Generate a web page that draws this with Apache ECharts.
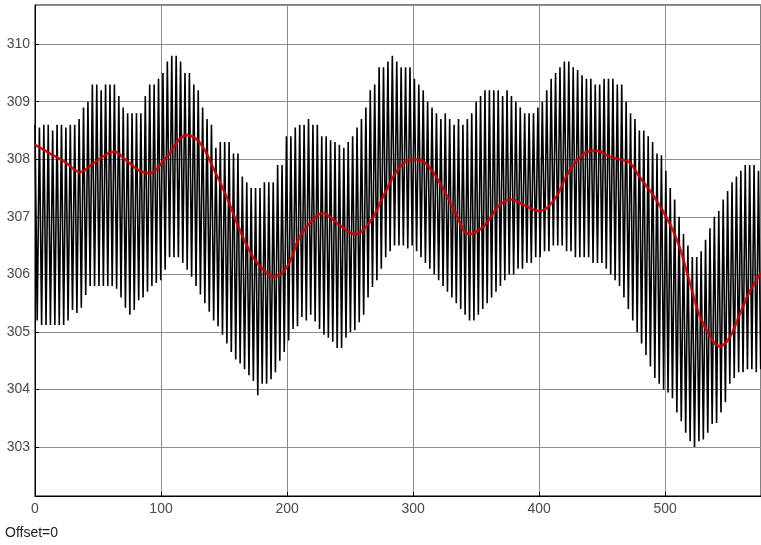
<!DOCTYPE html>
<html>
<head>
<meta charset="utf-8">
<script src="https://cdn.jsdelivr.net/npm/echarts@6/dist/echarts.min.js"></script>
<style>
  html, body { margin: 0; padding: 0; background: #fff; }
  #chart { width: 761px; height: 545px; }
</style>
</head>
<body>
<div id="chart"></div>
<script>
// Scope trace: raw sampled signal (black) and its filtered mean (red).
const sampleStep = 1.75;

// Successive maxima of the raw signal, one per oscillation
const peakValues = [
  308.6, 308.55, 308.6, 308.6, 308.5, 308.6, 308.6, 308.55, 308.6, 308.6,
  308.7, 308.9, 309.0, 309.3, 309.3, 309.2, 309.3, 309.3, 309.3, 309.1,
  308.9, 308.8, 308.8, 308.8, 308.8, 309.1, 309.3, 309.3, 309.4, 309.5,
  309.7, 309.8, 309.8, 309.7, 309.5, 309.5, 309.3, 309.2, 308.9, 308.7,
  308.6, 308.2, 308.3, 308.3, 308.3, 308.1, 308.1, 307.7, 307.6, 307.5,
  307.5, 307.5, 307.6, 307.6, 307.6, 307.9, 307.9, 308.4, 308.4, 308.55,
  308.6, 308.6, 308.7, 308.6, 308.6, 308.4, 308.4, 308.33, 308.3, 308.25,
  308.2, 308.3, 308.4, 308.55, 308.7, 308.9, 309.2, 309.3, 309.6, 309.6,
  309.7, 309.8, 309.7, 309.6, 309.6, 309.6, 309.4, 309.3, 309.2, 309.0,
  308.9, 308.8, 308.7, 308.8, 308.7, 308.6, 308.7, 308.6, 308.7, 308.8,
  309.0, 309.1, 309.2, 309.2, 309.2, 309.2, 309.1, 309.2, 309.1, 309.0,
  308.9, 308.8, 308.8, 308.8, 308.9, 309.0, 309.2, 309.4, 309.5, 309.6,
  309.7, 309.7, 309.6, 309.55, 309.46, 309.4, 309.4, 309.3, 309.3, 309.4,
  309.4, 309.4, 309.3, 309.3, 309.0, 308.8, 308.7, 308.5, 308.5, 308.4,
  308.3, 308.1, 308.07, 307.8, 307.5, 307.3, 307.0, 306.7, 306.5, 306.3,
  306.3, 306.4, 306.6, 306.8, 307.0, 307.1, 307.3, 307.45, 307.6, 307.7,
  307.8, 307.9, 307.9, 307.9, 307.8
];

// Successive minima of the raw signal, one per oscillation
const troughValues = [
  305.2, 305.12, 305.12, 305.12, 305.12, 305.12, 305.12, 305.2, 305.38, 305.33,
  305.42, 305.64, 305.8, 305.8, 305.8, 305.8, 305.8, 305.8, 305.75, 305.6,
  305.42, 305.3, 305.38, 305.55, 305.6, 305.7, 305.8, 305.85, 305.9, 306.08,
  306.3, 306.3, 306.3, 306.2, 306.08, 305.96, 305.8, 305.65, 305.5, 305.35,
  305.2, 305.1, 304.95, 304.8, 304.65, 304.52, 304.45, 304.35, 304.25, 304.15,
  303.9, 304.1, 304.1, 304.18, 304.3, 304.5, 304.65, 304.85, 305.05, 305.1,
  305.26, 305.2, 305.3, 305.18, 305.05, 304.95, 304.9, 304.83, 304.72, 304.72,
  304.9, 305.0, 305.03, 305.17, 305.3, 305.6, 305.78, 305.9, 306.1, 306.3,
  306.4, 306.5, 306.5, 306.5, 306.45, 306.5, 306.4, 306.3, 306.2, 306.1,
  306.0, 305.9, 305.8, 305.7, 305.6, 305.5, 305.4, 305.3, 305.2, 305.2,
  305.3, 305.4, 305.5, 305.6, 305.7, 305.8, 305.9, 306.0, 306.0, 306.1,
  306.1, 306.2, 306.2, 306.3, 306.3, 306.4, 306.4, 306.5, 306.5, 306.5,
  306.4, 306.4, 306.3, 306.3, 306.3, 306.3, 306.2, 306.2, 306.2, 306.1,
  306.0, 305.9, 305.8, 305.6, 305.4, 305.2, 305.0, 304.8, 304.6, 304.4,
  304.2, 304.1, 304.0, 303.95, 303.85, 303.6, 303.45, 303.25, 303.1, 303.0,
  303.1, 303.13, 303.25, 303.4, 303.42, 303.6, 303.78, 304.1, 304.2, 304.3,
  304.3, 304.35, 304.35, 304.3, 304.35
];

// Filtered mean of the signal
const meanTimes = [
  0, 12, 24, 35.7, 47.5, 63, 71.3, 83, 91, 103,
  121, 131, 141, 152, 162.5, 173, 184, 190, 200, 210,
  220, 228, 242, 253.5, 265.5, 277.3, 289, 299.5, 309, 321,
  333, 344.7, 356.6, 368.4, 378, 388.3, 400, 412, 424, 435.8,
  445, 455.6, 463.5, 471.5, 479.4, 491.3, 503.2, 511, 519, 527,
  535, 543, 551, 559, 567, 576
];
const meanValues = [
  308.25, 308.1, 307.95, 307.78, 307.95, 308.13, 308.0, 307.8, 307.76, 308.0,
  308.42, 308.28, 307.87, 307.35, 306.77, 306.3, 306.02, 305.96, 306.13, 306.65,
  306.94, 307.06, 306.85, 306.7, 306.9, 307.4, 307.85, 308.0, 307.95, 307.6,
  307.1, 306.7, 306.85, 307.2, 307.3, 307.2, 307.1, 307.3, 307.8, 308.1,
  308.15, 308.05, 308.0, 307.95, 307.7, 307.35, 306.9, 306.5, 305.9, 305.3,
  304.95, 304.75, 304.9, 305.3, 305.7, 306.02
];

const xTicks = [0, 100, 200, 300, 400, 500];
const yTicks = [303, 304, 305, 306, 307, 308, 309, 310];

const rawData = [];
for (let k = 0; k < peakValues.length; k++) {
  rawData.push([2 * k * sampleStep, peakValues[k]]);
  if (k < troughValues.length) rawData.push([(2 * k + 1) * sampleStep, troughValues[k]]);
}
const meanData = meanTimes.map((t, i) => [t, meanValues[i]]);

const labelFont = { fontFamily: 'Liberation Sans, Arial, sans-serif', fontSize: 14, color: '#4a4a4a' };

const chart = echarts.init(document.getElementById('chart'), null, { renderer: 'canvas' });
chart.setOption({
  animation: false,
  backgroundColor: '#fff',
  grid: {
    left: 35, top: 5, right: -1, bottom: 49,
    show: true, borderColor: '#000', borderWidth: 1, backgroundColor: 'transparent'
  },
  graphic: [{
    type: 'text', left: 5, top: 526,
    style: { text: 'Offset=0', fill: '#222', font: '14px "Liberation Sans", Arial, sans-serif' }
  }],
  xAxis: {
    type: 'value', min: 0, max: 576, interval: 100,
    axisLine: { show: true, lineStyle: { color: '#000', width: 1 } },
    axisTick: { show: true, inside: true, length: 4, lineStyle: { color: '#000' } },
    axisLabel: Object.assign({ margin: 6, showMaxLabel: false,
      formatter: v => xTicks.includes(v) ? String(v) : '' }, labelFont),
    splitLine: { show: true, lineStyle: { color: '#8c8c8c', width: 1 } }
  },
  yAxis: {
    type: 'value', min: 302.15, max: 310.68, splitNumber: 8, minInterval: 1, maxInterval: 1,
    axisLine: { show: true, lineStyle: { color: '#000', width: 1 } },
    axisTick: { show: true, inside: true, length: 4, lineStyle: { color: '#000' } },
    axisLabel: Object.assign({ margin: 5, showMinLabel: false, showMaxLabel: false,
      formatter: v => yTicks.includes(v) ? String(v) : '' }, labelFont),
    splitLine: { show: true, lineStyle: { color: '#8c8c8c', width: 1 } }
  },
  series: [
    {
      type: 'line', data: rawData, showSymbol: false, symbol: 'none',
      lineStyle: { color: '#000', width: 1.6 }, z: 2, silent: true
    },
    {
      type: 'line', data: meanData, showSymbol: false, symbol: 'none', smooth: 0.4,
      lineStyle: { color: '#d40000', width: 2.6, opacity: 0.9 }, z: 3, silent: true
    }
  ]
});
</script>
</body>
</html>
